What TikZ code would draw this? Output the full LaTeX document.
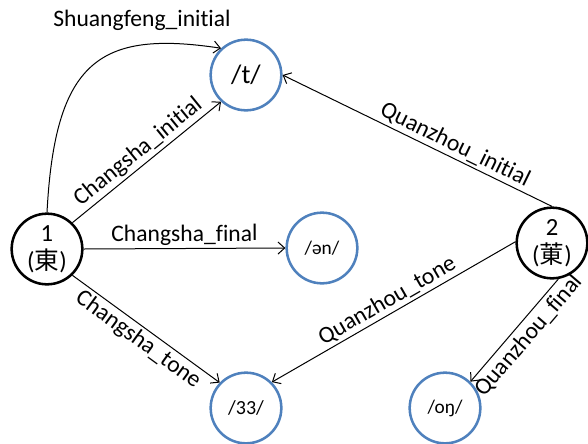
\documentclass[tikz,border=0pt]{standalone}
\usepackage{fontspec}
\setmainfont{Carlito}[Ligatures={NoCommon,NoRequired,NoContextual}]
\newfontfamily\cjk{Noto Sans CJK SC}
\usetikzlibrary{arrows.meta}
\definecolor{blueline}{HTML}{4F81BD}
\tikzset{
  snode/.style={circle, draw=black, line width=1.9pt, minimum size=53pt, inner sep=0pt, align=center, font=\fontsize{18.5}{21}\selectfont},
  pnode/.style={circle, draw=blueline, line width=1.9pt, minimum size=53pt, inner sep=0pt},
  conn/.style={line width=0.75pt, -{Straight Barb[length=5pt,width=9pt]}},
  lab/.style={font=\fontsize{17.7}{21}\selectfont, inner sep=2pt},
}
\begin{document}
\begin{tikzpicture}[x=0.75pt,y=-0.75pt]
\useasboundingbox (0,0) rectangle (588,443);
\node[snode] (n1) at (47,249) {1\\({\cjk 東})};
\node[snode] (n2) at (552,243) {2\\({\cjk 菄})};
\node[pnode, font=\fontsize{20}{22}\selectfont] (t) at (246,75) {/t/};
\node[pnode, font=\fontsize{14.5}{17}\selectfont] (en) at (322,248) {/ən/};
\node[pnode, font=\fontsize{15}{17}\selectfont] (tt) at (246,408) {/33/};
\node[pnode, font=\fontsize{14.5}{17}\selectfont] (on) at (445,408) {/oŋ/};
\node[lab] (sf) at (142,20) {Shuangfeng\_initial};

\draw[conn] (n1.north) .. controls (55,60) and (100,30) .. (t.133);
\draw[conn] (n1.46) -- node[lab, midway, above, sloped] {Changsha\_initial} (t.227);
\draw[conn] (n1.east) -- node[lab, midway, above, sloped] {Changsha\_final} (en.west);
\draw[conn] (n1.-46) -- node[lab, midway, below, sloped] {Changsha\_tone} (tt.136);
\draw[conn] (n2.north) -- node[lab, pos=0.38, above, sloped] {Quanzhou\_initial} (t.east);
\draw[conn] (n2.178) -- node[lab, midway, above, sloped] {Quanzhou\_tone} (tt.45);
\draw[conn] (n2.-80) -- node[lab, pos=0.46, below=1pt, sloped] {Quanzhou\_final} (on.46);
\end{tikzpicture}
\end{document}
